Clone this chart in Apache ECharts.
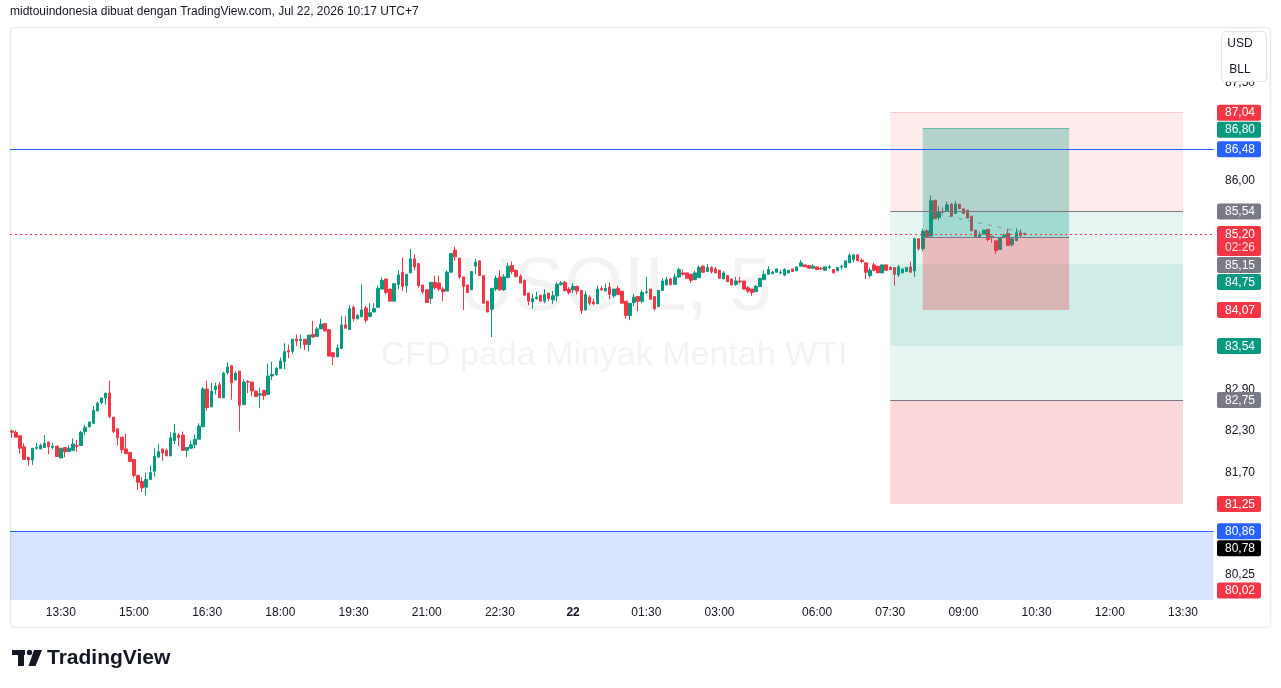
<!DOCTYPE html>
<html>
<head>
<meta charset="utf-8">
<script src="https://cdn.jsdelivr.net/npm/echarts@6/dist/echarts.min.js"></script>
<style>
html,body{margin:0;padding:0;background:#fff;}
#main{width:1281px;height:688px;}
</style>
</head>
<body>
<div id="main"></div>
<script>
// USOIL 5 menit, [open, high, low, close]
var bars = [
  [82.30,82.32,82.20,82.28],[82.28,82.31,82.21,82.21],[82.23,82.23,81.97,82.05],[82.07,82.12,81.89,81.89],
  [81.92,81.92,81.80,81.88],[81.88,82.05,81.81,82.05],[82.05,82.13,82.03,82.06],[82.04,82.12,82.04,82.09],
  [82.06,82.24,82.06,82.12],[82.14,82.14,81.96,82.07],[82.06,82.13,82.03,82.08],[82.08,82.08,81.93,81.93],
  [81.91,82.05,81.90,82.05],[82.06,82.06,81.92,82.00],[82.00,82.09,82.00,82.05],[82.02,82.19,82.02,82.11],
  [82.09,82.17,82.00,82.08],[82.09,82.30,82.09,82.28],[82.29,82.39,82.24,82.35],[82.36,82.43,82.35,82.43],
  [82.41,82.66,82.41,82.60],[82.59,82.73,82.59,82.70],[82.71,82.78,82.69,82.78],[82.78,82.85,82.68,82.85],
  [82.85,83.03,82.48,82.51],[82.50,82.50,82.27,82.29],[82.33,82.33,82.09,82.20],[82.21,82.21,81.98,82.03],
  [82.04,82.26,81.97,81.97],[81.99,81.99,81.85,81.86],[81.89,81.89,81.63,81.66],[81.66,81.66,81.45,81.56],
  [81.57,81.63,81.42,81.48],[81.49,81.70,81.37,81.60],[81.60,81.80,81.60,81.70],[81.72,82.05,81.64,81.93],
  [81.92,82.11,81.92,82.00],[82.04,82.04,81.87,81.98],[82.02,82.05,81.94,81.94],[81.94,82.28,81.94,82.20],
  [82.16,82.40,82.11,82.27],[82.24,82.27,82.08,82.20],[82.24,82.29,82.02,82.02],[82.02,82.06,81.92,82.06],
  [82.05,82.16,82.05,82.10],[82.10,82.25,82.05,82.18],[82.18,82.41,82.18,82.37],[82.36,82.94,82.36,82.91],
  [82.91,83.03,82.59,82.64],[82.65,83.00,82.65,82.88],[82.90,83.00,82.83,82.95],[82.97,83.01,82.78,82.78],
  [82.78,83.16,82.78,83.14],[83.15,83.30,83.12,83.23],[83.25,83.25,82.75,83.00],[83.04,83.17,83.04,83.14],
  [83.17,83.17,82.29,82.67],[82.68,83.05,82.68,83.01],[83.02,83.04,82.85,83.01],[83.01,83.01,82.80,82.88],
  [82.88,82.88,82.79,82.80],[82.82,82.93,82.63,82.84],[82.89,82.89,82.75,82.81],[82.83,83.28,82.83,83.10],
  [83.10,83.31,83.04,83.12],[83.12,83.23,83.10,83.21],[83.21,83.37,83.21,83.32],[83.31,83.58,83.20,83.46],
  [83.47,83.56,83.36,83.45],[83.46,83.64,83.42,83.64],[83.64,83.71,83.54,83.61],[83.62,83.71,83.50,83.64],
  [83.64,83.64,83.48,83.56],[83.56,83.70,83.46,83.70],[83.71,83.91,83.66,83.67],[83.68,83.82,83.68,83.79],
  [83.79,83.94,83.79,83.86],[83.87,83.87,83.76,83.76],[83.78,83.78,83.39,83.39],[83.44,83.44,83.26,83.38],
  [83.38,83.56,83.38,83.51],[83.50,83.98,83.50,83.85],[83.85,83.98,83.80,83.80],[83.78,84.14,83.78,84.09],
  [84.11,84.14,83.90,83.94],[83.94,84.01,83.93,83.99],[83.97,84.45,83.97,84.07],[84.10,84.13,83.88,83.92],
  [83.97,84.17,83.97,84.03],[84.04,84.17,84.04,84.09],[84.11,84.43,84.11,84.39],[84.38,84.55,84.38,84.51],
  [84.53,84.53,84.30,84.33],[84.38,84.38,84.20,84.20],[84.20,84.46,84.20,84.46],[84.45,84.66,84.38,84.59],
  [84.63,84.85,84.35,84.42],[84.43,84.60,84.33,84.60],[84.62,84.98,84.62,84.83],[84.83,84.90,84.66,84.71],
  [84.76,84.76,84.40,84.43],[84.44,84.44,84.31,84.34],[84.37,84.37,84.18,84.18],[84.24,84.48,84.16,84.48],
  [84.48,84.58,84.37,84.40],[84.47,84.58,84.35,84.38],[84.38,84.41,84.20,84.34],[84.35,84.66,84.35,84.63],
  [84.63,84.91,84.63,84.91],[84.96,85.01,84.80,84.86],[84.84,84.84,84.53,84.56],[84.56,84.56,84.07,84.42],
  [84.44,84.44,84.33,84.33],[84.37,84.64,84.37,84.64],[84.72,84.83,84.60,84.78],[84.80,84.80,84.58,84.58],
  [84.58,84.58,84.17,84.17],[84.20,84.20,84.04,84.04],[84.08,84.39,83.67,84.39],[84.38,84.58,84.35,84.54],
  [84.56,84.66,84.35,84.37],[84.37,84.60,84.35,84.56],[84.55,84.77,84.55,84.72],[84.73,84.79,84.60,84.64],
  [84.66,84.67,84.55,84.57],[84.57,84.60,84.47,84.47],[84.51,84.52,84.28,84.29],[84.32,84.32,84.14,84.20],
  [84.19,84.31,84.09,84.24],[84.24,84.34,84.22,84.26],[84.29,84.29,84.19,84.20],[84.20,84.38,84.17,84.30],
  [84.32,84.32,84.20,84.24],[84.22,84.35,84.16,84.28],[84.28,84.48,84.20,84.45],[84.45,84.50,84.43,84.47],
  [84.48,84.50,84.34,84.36],[84.38,84.41,84.30,84.33],[84.37,84.47,84.32,84.42],[84.42,84.43,84.30,84.35],
  [84.36,84.36,84.01,84.06],[84.07,84.35,84.07,84.30],[84.26,84.29,84.14,84.17],[84.19,84.24,84.14,84.16],
  [84.16,84.43,84.16,84.38],[84.39,84.43,84.35,84.37],[84.35,84.46,84.35,84.39],[84.41,84.48,84.23,84.30],
  [84.28,84.38,84.25,84.38],[84.39,84.43,84.30,84.30],[84.35,84.35,84.17,84.17],[84.20,84.20,83.94,83.99],
  [83.99,84.17,83.92,84.17],[84.18,84.31,84.13,84.26],[84.27,84.27,84.05,84.20],[84.20,84.37,84.17,84.33],
  [84.33,84.56,84.31,84.34],[84.38,84.38,84.22,84.23],[84.27,84.27,84.06,84.09],[84.12,84.36,84.12,84.36],
  [84.36,84.54,84.36,84.50],[84.44,84.56,84.44,84.52],[84.53,84.55,84.43,84.45],[84.45,84.61,84.45,84.56],
  [84.56,84.69,84.54,84.67],[84.62,84.67,84.58,84.60],[84.62,84.62,84.54,84.54],[84.60,84.60,84.47,84.51],
  [84.52,84.65,84.52,84.62],[84.55,84.73,84.55,84.70],[84.72,84.74,84.63,84.63],[84.64,84.75,84.64,84.70],
  [84.70,84.72,84.61,84.64],[84.68,84.71,84.62,84.62],[84.66,84.66,84.54,84.54],[84.53,84.65,84.53,84.62],
  [84.58,84.58,84.49,84.49],[84.53,84.53,84.44,84.44],[84.45,84.56,84.43,84.50],[84.50,84.56,84.46,84.49],
  [84.50,84.50,84.38,84.38],[84.40,84.43,84.32,84.35],[84.38,84.38,84.28,84.33],[84.34,84.44,84.34,84.42],
  [84.42,84.54,84.42,84.54],[84.52,84.66,84.52,84.60],[84.60,84.72,84.60,84.67],[84.61,84.65,84.60,84.63],
  [84.63,84.68,84.63,84.68],[84.62,84.67,84.60,84.63],[84.59,84.69,84.57,84.67],[84.62,84.66,84.62,84.66],
  [84.68,84.68,84.64,84.64],[84.65,84.71,84.65,84.71],[84.72,84.81,84.72,84.77],[84.74,84.74,84.71,84.71],
  [84.73,84.73,84.69,84.69],[84.69,84.75,84.69,84.72],[84.71,84.71,84.67,84.67],[84.69,84.71,84.66,84.68],
  [84.66,84.71,84.66,84.71],[84.70,84.74,84.68,84.71],[84.67,84.67,84.62,84.62],[84.65,84.70,84.65,84.70],
  [84.71,84.74,84.67,84.72],[84.70,84.80,84.70,84.80],[84.77,84.91,84.77,84.88],[84.82,84.89,84.78,84.89],
  [84.89,84.89,84.80,84.80],[84.81,84.84,84.77,84.79],[84.77,84.77,84.53,84.63],[84.58,84.70,84.55,84.66],
  [84.74,84.77,84.64,84.66],[84.72,84.72,84.62,84.62],[84.62,84.74,84.62,84.74],[84.74,84.74,84.66,84.66],
  [84.70,84.72,84.67,84.67],[84.70,84.70,84.43,84.60],[84.59,84.74,84.56,84.71],[84.62,84.68,84.62,84.68],
  [84.64,84.70,84.64,84.70],[84.71,84.79,84.63,84.63],[84.65,85.15,84.56,85.13],[85.13,85.13,84.95,84.98],
  [84.98,85.28,84.94,85.24],[85.25,85.27,85.16,85.16],[85.17,85.78,85.17,85.70],[85.71,85.71,85.43,85.43],
  [85.45,85.62,85.41,85.54],[85.54,85.60,85.51,85.53],[85.55,85.69,85.55,85.64],[85.65,85.67,85.47,85.47],
  [85.51,85.70,85.51,85.65],[85.65,85.65,85.58,85.58],[85.58,85.58,85.51,85.51],[85.56,85.56,85.44,85.44],
  [85.47,85.47,85.25,85.25],[85.26,85.26,85.16,85.16],[85.15,85.24,85.15,85.19],[85.20,85.26,85.20,85.26],
  [85.27,85.27,85.09,85.12],[85.17,85.17,85.07,85.16],[85.10,85.10,84.90,84.95],[84.97,85.15,84.97,85.15],
  [85.15,85.21,85.15,85.18],[85.21,85.28,85.03,85.03],[85.04,85.13,85.01,85.13],[85.10,85.29,85.10,85.22],
  [85.22,85.27,85.15,85.18],[85.21,85.22,85.18,85.20]
];

// sesi perdagangan (menit sejak 21 Jul 00:00), jeda 04:00-05:00
var sessions = [[750, 1675], [1740, 2285]];
var timeTicks = ['21 13:30','21 15:00','21 16:30','21 18:00','21 19:30','21 21:00','21 22:30','22 00:00',
                 '22 01:30','22 03:00','22 06:00','22 07:30','22 09:00','22 10:30','22 12:00','22 13:30'];

var hLines = [86.48, 80.86];
var lastPrice = 85.20;
var countdown = '02:26';
var posA = {from: '22 07:30', to: '22 13:30', entry: 85.54, stop: 87.04, target: 83.54};
var posB = {from: '22 07:30', to: '22 13:30', entry: 82.75, stop: 81.25, target: 84.75};
var posC = {from: '22 08:10', to: '22 11:10', entry: 85.15, stop: 84.07, target: 86.80};
var trail = [['22 08:30', 85.50], ['22 10:15', 85.22]];

var priceTags  = [87.04, 86.80, 86.48, 85.54, 85.20, 85.15, 84.75, 84.07, 83.54, 82.75, 81.25, 80.86, 80.78, 80.02];
var tagColors  = ['#f23645','#089981','#2962ff','#787b86','#f23645','#787b86','#089981','#f23645','#089981','#787b86','#f23645','#2962ff','#000000','#f23645'];
var axisTicks  = [87.50, 86.00, 82.90, 82.30, 81.70, 80.25];

var yMin = 79.888, yMax = 88.346;
var FONT = '"Liberation Sans", Arial, sans-serif';

var categories = [];
sessions.forEach(function (s) {
  for (var m = s[0]; m <= s[1]; m += 5) {
    var day = m >= 1440 ? '22' : '21';
    var t = m % 1440;
    var hh = Math.floor(t / 60), mm = t % 60;
    categories.push(day + ' ' + (hh < 10 ? '0' : '') + hh + ':' + (mm < 10 ? '0' : '') + mm);
  }
});

function fmt(v) { return v.toFixed(2).replace('.', ','); }

var chart = echarts.init(document.getElementById('main'));

function box(a, b, from, to, color) {
  return [{xAxis: from, yAxis: a, itemStyle: {color: color}}, {xAxis: to, yAxis: b}];
}
function seg(from, to, v) {
  return [{coord: [from, v]}, {coord: [to, v]}];
}
// seri bantu hanya untuk menggambar garis
function lineSeries(z, style, data) {
  return {
    type: 'line', data: [], z: z, silent: true,
    markLine: {silent: true, symbol: ['none', 'none'], label: {show: false}, z: z,
               lineStyle: style, emphasis: {disabled: true}, data: data}
  };
}

var option = {
  animation: false,
  textStyle: {fontFamily: FONT},
  grid: {left: 10, right: 67.5, top: 28, height: 572},
  xAxis: {
    type: 'category',
    data: categories,
    boundaryGap: true,
    axisLine: {show: false},
    axisTick: {show: false},
    splitLine: {show: false},
    axisLabel: {
      interval: function (i, v) { return timeTicks.indexOf(v) >= 0; },
      formatter: function (v) { return v === '22 00:00' ? '{b|22}' : v.slice(3); },
      color: '#131722', fontSize: 12, margin: 7, fontFamily: FONT,
      rich: {b: {fontWeight: 'bold', fontSize: 12, color: '#131722', fontFamily: FONT}}
    }
  },
  yAxis: {
    type: 'log',
    logBase: 10,
    min: yMin,
    max: yMax,
    axisLine: {show: false},
    axisTick: {show: false},
    axisLabel: {show: false},
    splitLine: {show: false}
  },
  series: [
    {
      type: 'candlestick',
      data: bars.map(function (b) { return [b[0], b[3], b[2], b[1]]; }),
      barWidth: 3,
      z: 2,
      itemStyle: {
        color: '#089981', color0: '#f23645',
        borderColor: '#089981', borderColor0: '#f23645', borderWidth: 1
      },
      markArea: {
        silent: true,
        z: 3,
        data: [
          [{yAxis: hLines[1], itemStyle: {color: 'rgba(41,98,255,0.18)'}}, {yAxis: yMin}],
          box(posA.stop, posA.entry, posA.from, posA.to, 'rgba(242,54,69,0.1)'),
          box(posA.entry, posA.target, posA.from, posA.to, 'rgba(8,153,129,0.1)'),
          box(posB.target, posB.entry, posB.from, posB.to, 'rgba(8,153,129,0.1)'),
          box(posB.entry, posB.stop, posB.from, posB.to, 'rgba(242,54,69,0.2)'),
          box(posC.target, posC.entry, posC.from, posC.to, 'rgba(8,153,129,0.3)'),
          box(posC.entry, posC.stop, posC.from, posC.to, 'rgba(242,54,69,0.3)')
        ]
      }
    },
    lineSeries(6, {color: '#f23645', width: 1, type: [2, 3], opacity: 1},
               [{yAxis: lastPrice}]),
    lineSeries(5, {color: '#787b86', width: 1, type: 'solid', opacity: 1},
               [seg(posA.from, posA.to, posA.entry), seg(posB.from, posB.to, posB.entry),
                seg(posC.from, posC.to, posC.entry)]),
    lineSeries(5, {color: 'rgba(242,54,69,0.25)', width: 1, type: 'solid', opacity: 1},
               [seg(posA.from, posA.to, posA.stop)]),
    lineSeries(5, {color: 'rgba(8,153,129,0.5)', width: 1, type: 'solid', opacity: 1},
               [seg(posC.from, posC.to, posC.target)]),
    lineSeries(5, {color: 'rgba(120,123,134,0.7)', width: 1, type: [4, 6], opacity: 1},
               [[{coord: trail[0]}, {coord: trail[1]}]])
  ]
};
chart.setOption(option);

function overlay() {
  var toY = function (v) { return chart.convertToPixel({yAxisIndex: 0}, v); };
  var g = [];
  // bingkai
  g.push({type: 'rect', z: 1, shape: {x: 10.5, y: 27.5, width: 1260, height: 600, r: 4},
          style: {fill: 'none', stroke: '#e9ecf1', lineWidth: 1.5}});
  // garis horizontal biru (pita 1 px)
  hLines.forEach(function (v) {
    var y = Math.round(toY(v));
    g.push({type: 'rect', z: 6, shape: {x: 10, y: y, width: 1203.5, height: 1},
            style: {fill: '#2962ff'}});
  });
  // watermark
  g.push({type: 'text', z: 0, x: 615, y: 289,
          style: {text: 'USOIL, 5', font: '76px ' + FONT, fill: 'rgba(19,23,34,0.05)', align: 'center', verticalAlign: 'middle'}});
  g.push({type: 'text', z: 0, x: 614, y: 356,
          style: {text: 'CFD pada Minyak Mentah WTI', font: '34px ' + FONT, fill: 'rgba(19,23,34,0.05)', align: 'center', verticalAlign: 'middle'}});
  // judul
  g.push({type: 'text', z: 10, x: 10, y: 12,
          style: {text: 'midtouindonesia dibuat dengan TradingView.com, Jul 22, 2026 10:17 UTC+7', font: '12px ' + FONT, fill: '#131722', align: 'left', verticalAlign: 'middle'}});
  // label skala harga
  axisTicks.forEach(function (v) {
    g.push({type: 'text', z: 20, x: 1240, y: toY(v),
            style: {text: fmt(v), font: '12px ' + FONT, fill: '#131722', align: 'center', verticalAlign: 'middle'}});
  });
  var prevBottom = -1e9;
  priceTags.forEach(function (v, i) {
    var dbl = v === lastPrice;
    var h = dbl ? 30 : 16;
    var top = Math.max(toY(v) - 8, prevBottom + 1);
    prevBottom = top + h;
    g.push({type: 'rect', z: 21, shape: {x: 1217, y: top, width: 44, height: h, r: 2}, style: {fill: tagColors[i]}});
    g.push({type: 'text', z: 22, x: 1240, y: top + 8.5,
            style: {text: fmt(v), font: '12px ' + FONT, fill: '#ffffff', align: 'center', verticalAlign: 'middle'}});
    if (dbl) {
      g.push({type: 'text', z: 22, x: 1240, y: top + 22,
              style: {text: countdown, font: '12px ' + FONT, fill: 'rgba(255,255,255,0.85)', align: 'center', verticalAlign: 'middle'}});
    }
  });
  // kotak mata uang / unit
  g.push({type: 'rect', z: 25, shape: {x: 1221.5, y: 31.5, width: 45, height: 50, r: 4},
          style: {fill: '#ffffff', stroke: '#e0e3eb', lineWidth: 1}});
  g.push({type: 'text', z: 26, x: 1240, y: 44, style: {text: 'USD', font: '12px ' + FONT, fill: '#131722', align: 'center', verticalAlign: 'middle'}});
  g.push({type: 'text', z: 26, x: 1240, y: 70, style: {text: 'BLL', font: '12px ' + FONT, fill: '#131722', align: 'center', verticalAlign: 'middle'}});
  // logo TradingView
  g.push({type: 'rect', z: 10, shape: {x: 12, y: 650, width: 13, height: 5}, style: {fill: '#131722'}});
  g.push({type: 'rect', z: 10, shape: {x: 18, y: 650, width: 6, height: 16}, style: {fill: '#131722'}});
  g.push({type: 'circle', z: 10, shape: {cx: 29.5, cy: 652.5, r: 2.7}, style: {fill: '#131722'}});
  g.push({type: 'polygon', z: 10, shape: {points: [[34, 650], [42, 650], [35.5, 666], [28.5, 666]]}, style: {fill: '#131722'}});
  g.push({type: 'text', z: 10, x: 47, y: 658,
          style: {text: 'TradingView', font: 'bold 21px ' + FONT, fill: '#131722', align: 'left', verticalAlign: 'middle'}});
  return g;
}
chart.setOption({graphic: overlay()});
</script>
</body>
</html>
